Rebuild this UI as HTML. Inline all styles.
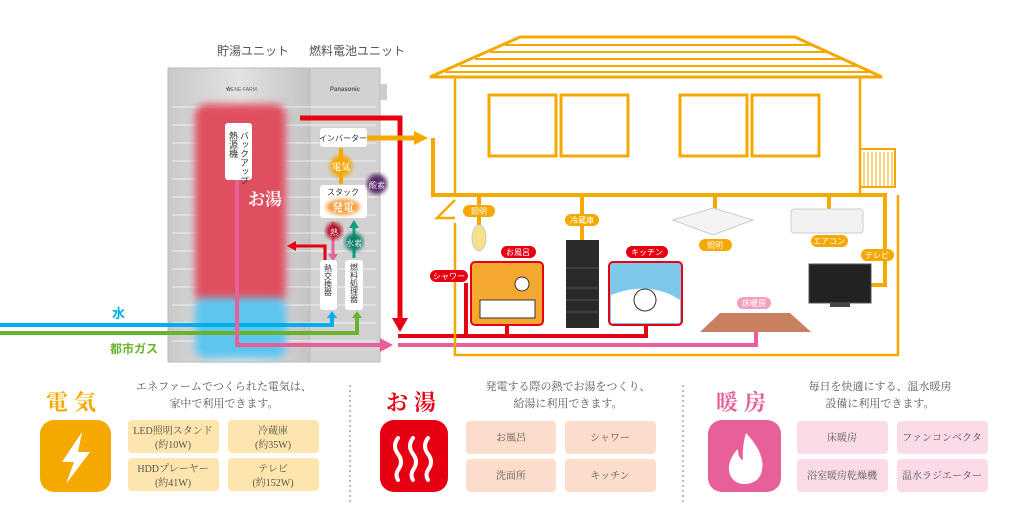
<!DOCTYPE html>
<html><head><meta charset="utf-8"><style>
html,body{margin:0;padding:0;background:#fff;}
svg{display:block;font-family:"Liberation Serif","Noto Serif CJK SC","Noto Sans CJK JP",serif;}
.s{font-family:"Liberation Sans","Noto Sans CJK JP",sans-serif;}
</style></head><body>
<svg width="1024" height="510" viewBox="0 0 1024 510" xmlns="http://www.w3.org/2000/svg">
<defs>
<filter id="bl" x="-20%" y="-20%" width="140%" height="140%"><feGaussianBlur stdDeviation="4"/></filter>
<filter id="bl2"><feGaussianBlur stdDeviation="2"/></filter>
<linearGradient id="ug" x1="0" x2="1"><stop offset="0" stop-color="#c9c9c9"/><stop offset=".5" stop-color="#e2e2e2"/><stop offset="1" stop-color="#c4c4c4"/></linearGradient>
</defs>
<text x="253" y="55" font-size="12" fill="#555" text-anchor="middle" class="s">貯湯ユニット</text>
<text x="357" y="55" font-size="12" fill="#555" text-anchor="middle" class="s">燃料電池ユニット</text>
<rect x="168" y="68" width="142" height="294" fill="url(#ug)" stroke="#bbb"/>
<rect x="310" y="68" width="70" height="294" fill="#d2d2d2" stroke="#bbb"/>
<rect x="380" y="84" width="7" height="16" fill="#ccc"/>
<g stroke="#f0f0f0" stroke-width="1">
<line x1="172" y1="107" x2="376" y2="107"/><line x1="172" y1="125" x2="376" y2="125"/><line x1="172" y1="143" x2="376" y2="143"/><line x1="172" y1="161" x2="376" y2="161"/><line x1="172" y1="179" x2="376" y2="179"/><line x1="172" y1="197" x2="376" y2="197"/><line x1="172" y1="215" x2="376" y2="215"/><line x1="172" y1="233" x2="376" y2="233"/><line x1="172" y1="251" x2="376" y2="251"/><line x1="172" y1="269" x2="376" y2="269"/><line x1="172" y1="287" x2="376" y2="287"/><line x1="172" y1="305" x2="376" y2="305"/><line x1="172" y1="323" x2="376" y2="323"/><line x1="172" y1="341" x2="376" y2="341"/>
</g>
<text x="226" y="91" font-size="5" fill="#666" class="s">✿ENE·FARM</text>
<text x="345" y="91" font-size="6" fill="#555" text-anchor="middle" font-weight="bold" class="s">Panasonic</text>
<rect x="195" y="104" width="91" height="200" rx="12" fill="#e05060" filter="url(#bl)"/>
<rect x="195" y="298" width="91" height="60" rx="10" fill="#5cc6ee" filter="url(#bl)"/>
<rect x="225" y="123" width="27" height="57" rx="3" fill="#fff"/>
<text x="244" y="131" font-size="9" fill="#333" style="writing-mode:vertical-rl" class="s">バックアップ</text>
<text x="233" y="131" font-size="9" fill="#333" style="writing-mode:vertical-rl" class="s">熱源機</text>
<text x="265" y="205" font-size="17" fill="#fff" font-weight="bold" text-anchor="middle">お湯</text>
<rect x="320" y="128" width="47" height="19" rx="3" fill="#fff"/>
<text x="343" y="141" font-size="8" fill="#333" text-anchor="middle" class="s">インバーター</text>
<line x1="341" y1="148" x2="341" y2="184" stroke="#f5a800" stroke-width="4"/>
<circle cx="341" cy="166" r="11" fill="#f5a800" filter="url(#bl2)"/>
<text x="341" y="170" font-size="9" fill="#fff" font-weight="bold" text-anchor="middle">電気</text>
<rect x="320" y="185" width="47" height="33" rx="3" fill="#fff"/>
<text x="343" y="195" font-size="8" fill="#333" text-anchor="middle" class="s">スタック</text>
<ellipse cx="343" cy="207" rx="17" ry="8" fill="#f5a040" filter="url(#bl2)"/>
<text x="343" y="211" font-size="11" fill="#fff" font-weight="bold" text-anchor="middle">発電</text>
<circle cx="377" cy="184" r="10" fill="#5a2a6a" filter="url(#bl2)"/>
<text x="377" y="188" font-size="8" fill="#fff" text-anchor="middle">酸素</text>
<path d="M333 222 V256" stroke="#e8609a" stroke-width="3"/><path d="M328 254 L333 261 L338 254Z" fill="#e8609a"/>
<circle cx="334" cy="231" r="8" fill="#b01020" filter="url(#bl2)"/>
<text x="334" y="235" font-size="8" fill="#fff" text-anchor="middle">熱</text>
<path d="M354 258 V226" stroke="#10a080" stroke-width="3"/><path d="M349 228 L354 220 L359 228Z" fill="#10a080"/>
<circle cx="354" cy="242" r="9" fill="#10806a" filter="url(#bl2)"/>
<text x="354" y="246" font-size="8" fill="#fff" text-anchor="middle">水素</text>
<path d="M325 260 V246 H294" stroke="#e60012" stroke-width="3" fill="none"/><path d="M296 241 L287 246 L296 251Z" fill="#e60012"/>
<rect x="320" y="260" width="17" height="50" rx="3" fill="#fff"/>
<text x="328" y="264" font-size="8" fill="#333" style="writing-mode:vertical-rl" class="s">熱交換器</text>
<rect x="345" y="260" width="18" height="50" rx="3" fill="#fff"/>
<text x="354" y="263" font-size="8" fill="#333" style="writing-mode:vertical-rl" class="s">燃料処理器</text>
<path d="M0 325 H332 V316" stroke="#00aeef" stroke-width="4" fill="none"/><path d="M327 318 L332 311 L337 318Z" fill="#00aeef"/>
<path d="M0 333 H357 V316" stroke="#6ab42d" stroke-width="4" fill="none"/><path d="M352 318 L357 311 L362 318Z" fill="#6ab42d"/>
<text x="112" y="318" font-size="13" fill="#00aeef" font-weight="bold" class="s">水</text>
<text x="110" y="353" font-size="12" fill="#6ab42d" font-weight="bold" class="s">都市ガス</text>
<path d="M237 180 V345 H382" stroke="#e8609a" stroke-width="4" fill="none"/><path d="M380 338 L393 345 L380 352Z" fill="#e8609a"/>
<path d="M398 345 H756 V330" stroke="#e8609a" stroke-width="4" fill="none"/>
<path d="M300 118 H400 V322" stroke="#e60012" stroke-width="5" fill="none"/><path d="M392 318 L400 332 L408 318Z" fill="#e60012"/>
<path d="M398 336 H646 V305 M466 336 V283 M507 336 V325" stroke="#e60012" stroke-width="4" fill="none"/>
<path d="M367 138 H416" stroke="#f5a800" stroke-width="5"/><path d="M414 131 L428 138 L414 145Z" fill="#f5a800"/>
<g stroke="#f5a800" fill="none">
<path d="M433 138 V195 H885 V285 H870" stroke-width="4"/>
<path d="M479 195 V225 M582 195 V240 M715 195 V210 M829 195 V210" stroke-width="4"/>
<path d="M520 37 H795 L882 77 H430 Z" stroke-width="3"/>
<path d="M505 45 H812 M490 52 H828 M475 59 H843 M460 66 H858 M445 72 H872" stroke-width="2"/>
<path d="M455 77 V195 M455 223 V355 H898 V195 M860 77 V195" stroke-width="2.5"/>
<path d="M455 200 L437 218 H455" stroke-width="2.5"/>
<rect x="489" y="95" width="67" height="61" stroke-width="3"/>
<rect x="561" y="95" width="67" height="61" stroke-width="3"/>
<rect x="680" y="95" width="67" height="61" stroke-width="3"/>
<rect x="752" y="95" width="67" height="61" stroke-width="3"/>
<rect x="860" y="149" width="35" height="38" stroke-width="2"/>
<path d="M864 152V187M868 152V187M872 152V187M876 152V187M880 152V187M884 152V187M888 152V187M892 152V187" stroke-width="1"/>
</g>
<ellipse cx="479" cy="238" rx="7" ry="13" fill="#f6e08a" stroke="#ccc"/>
<rect x="566" y="240" width="33" height="88" fill="#2a2a2a"/>
<path d="M566 268 H599 M566 288 H599 M566 300 H599 M566 312 H599" stroke="#555"/>
<path d="M673 220 L713 208 L753 220 L713 235 Z" fill="#f4f4f4" stroke="#ccc"/>
<rect x="791" y="209" width="72" height="24" rx="3" fill="#f2f2f2" stroke="#ccc"/>
<rect x="809" y="264" width="62" height="39" fill="#222" stroke="#555"/>
<rect x="830" y="303" width="20" height="4" fill="#444"/>
<rect x="471" y="262" width="72" height="63" rx="4" fill="#f5a830" stroke="#e60012" stroke-width="2"/>
<path d="M480 300 H535 V318 H480Z" fill="#fff" stroke="#333"/>
<circle cx="522" cy="284" r="7" fill="#fff" stroke="#333"/>
<rect x="609" y="262" width="73" height="63" rx="4" fill="#7ec8ec" stroke="#e60012" stroke-width="2"/>
<path d="M611 295 Q650 280 680 300 V323 H611Z" fill="#fff"/>
<circle cx="645" cy="300" r="11" fill="#fff" stroke="#333"/>
<path d="M700 332 L720 313 H790 L811 332 Z" fill="#c98060"/>
<g font-size="8" text-anchor="middle" fill="#fff" class="s">
<rect x="463" y="205" width="32" height="12" rx="6" fill="#f5a800"/><text x="479" y="214">照明</text>
<rect x="565" y="214" width="34" height="12" rx="6" fill="#f5a800"/><text x="582" y="223">冷蔵庫</text>
<rect x="699" y="239" width="33" height="12" rx="6" fill="#f5a800"/><text x="715" y="248">照明</text>
<rect x="811" y="235" width="37" height="12" rx="6" fill="#f5a800"/><text x="829" y="244">エアコン</text>
<rect x="861" y="249" width="33" height="12" rx="6" fill="#f5a800"/><text x="877" y="258">テレビ</text>
<rect x="501" y="246" width="35" height="12" rx="6" fill="#e60012"/><text x="518" y="255">お風呂</text>
<rect x="626" y="246" width="42" height="12" rx="6" fill="#e60012"/><text x="647" y="255">キッチン</text>
<rect x="430" y="270" width="38" height="12" rx="6" fill="#e60012"/><text x="449" y="279">シャワー</text>
<rect x="737" y="297" width="34" height="12" rx="6" fill="#f3a0c0"/><text x="754" y="306">床暖房</text>
</g>
<text x="74" y="410" font-size="22" fill="#f5a800" font-weight="bold" text-anchor="middle" letter-spacing="6">電気</text>
<rect x="40" y="420" width="71" height="72" rx="14" fill="#f5a800"/>
<path d="M82 432 L62 462 H74 L66 484 L90 452 H78 Z" fill="#fff"/>
<text x="224" y="390" font-size="11" fill="#555" text-anchor="middle">エネファームでつくられた電気は、</text>
<text x="224" y="407" font-size="11" fill="#555" text-anchor="middle">家中で利用できます。</text>
<g fill="#fde5ad"><rect x="128" y="420" width="91" height="33" rx="4"/><rect x="228" y="420" width="91" height="33" rx="4"/><rect x="128" y="458" width="91" height="33" rx="4"/><rect x="228" y="458" width="91" height="33" rx="4"/></g>
<g font-size="10" fill="#555" text-anchor="middle">
<text x="173" y="434">LED照明スタンド</text><text x="173" y="448">(約10W)</text>
<text x="273" y="434">冷蔵庫</text><text x="273" y="448">(約35W)</text>
<text x="173" y="472">HDDプレーヤー</text><text x="173" y="486">(約41W)</text>
<text x="273" y="472">テレビ</text><text x="273" y="486">(約152W)</text>
</g>
<line x1="350" y1="385" x2="350" y2="505" stroke="#777" stroke-dasharray="2 3"/>
<text x="414" y="410" font-size="22" fill="#e60012" font-weight="bold" text-anchor="middle" letter-spacing="6">お湯</text>
<rect x="380" y="420" width="68" height="72" rx="14" fill="#e60012"/>
<g stroke="#fff" stroke-width="4" fill="none" stroke-linecap="round"><path d="M398 438 q-6 8 0 16 q6 8 0 16 q-3 5 0 10"/><path d="M413 438 q-6 8 0 16 q6 8 0 16 q-3 5 0 10"/><path d="M428 438 q-6 8 0 16 q6 8 0 16 q-3 5 0 10"/></g>
<text x="568" y="390" font-size="11" fill="#555" text-anchor="middle">発電する際の熱でお湯をつくり、</text>
<text x="568" y="407" font-size="11" fill="#555" text-anchor="middle">給湯に利用できます。</text>
<g fill="#fcdccb"><rect x="466" y="421" width="90" height="33" rx="4"/><rect x="565" y="421" width="91" height="33" rx="4"/><rect x="466" y="459" width="90" height="33" rx="4"/><rect x="565" y="459" width="91" height="33" rx="4"/></g>
<g font-size="10" fill="#555" text-anchor="middle">
<text x="511" y="441">お風呂</text><text x="610" y="441">シャワー</text><text x="511" y="479">洗面所</text><text x="610" y="479">キッチン</text>
</g>
<line x1="683" y1="385" x2="683" y2="505" stroke="#777" stroke-dasharray="2 3"/>
<text x="744" y="410" font-size="22" fill="#e8609a" font-weight="bold" text-anchor="middle" letter-spacing="6">暖房</text>
<rect x="708" y="420" width="73" height="72" rx="14" fill="#e8609a"/>
<path d="M746 433 C760 448 764 460 762 470 C760 482 750 484 744 484 C734 484 728 476 729 466 C730 458 735 452 738 449 C738 456 740 459 743 460 C742 450 744 440 746 433Z" fill="#fff"/>
<text x="880" y="390" font-size="11" fill="#555" text-anchor="middle">毎日を快適にする、温水暖房</text>
<text x="880" y="407" font-size="11" fill="#555" text-anchor="middle">設備に利用できます。</text>
<g fill="#fbdbe7"><rect x="797" y="421" width="91" height="33" rx="4"/><rect x="897" y="421" width="91" height="33" rx="4"/><rect x="797" y="459" width="91" height="33" rx="4"/><rect x="897" y="459" width="91" height="33" rx="4"/></g>
<g font-size="10" fill="#555" text-anchor="middle">
<text x="842" y="441">床暖房</text><text x="942" y="441">ファンコンベクタ</text><text x="842" y="479">浴室暖房乾燥機</text><text x="942" y="479">温水ラジエーター</text>
</g>
</svg>
</body></html>
